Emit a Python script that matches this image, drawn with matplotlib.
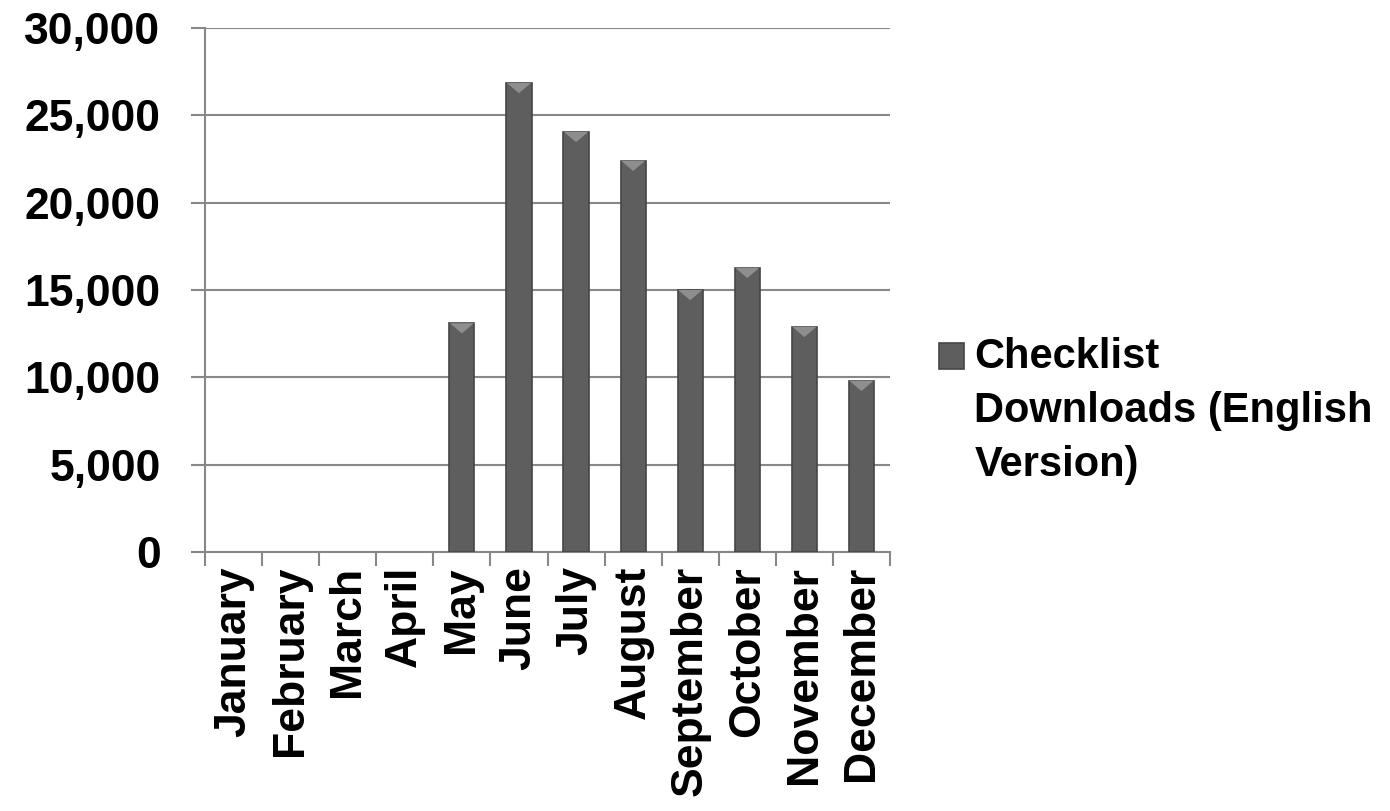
import matplotlib.pyplot as plt
from matplotlib.path import Path
import numpy as np

# Monthly download counts (English checklist)
months = ['January', 'February', 'March', 'April', 'May', 'June', 'July',
          'August', 'September', 'October', 'November', 'December']
downloads = [0, 0, 0, 0, 13100, 26850, 24050, 22400, 15000, 16270, 12890, 9800]
y_ticks = [0, 5000, 10000, 15000, 20000, 25000, 30000]
series_name = 'Checklist\nDownloads (English\nVersion)'

plt.rcParams['font.family'] = ['Liberation Sans', 'DejaVu Sans']
plt.rcParams['font.weight'] = 'bold'

fig = plt.figure(figsize=(13.9, 8.11), dpi=100)
ax = fig.add_axes([205 / 1390, 1 - 552 / 811, 685 / 1390, 524 / 811])

x = np.arange(len(months))
edge = ['#454545' if v > 0 else 'none' for v in downloads]
bars = ax.bar(x, downloads, width=0.44, color='#5e5e5e', edgecolor=edge,
              linewidth=1.2, zorder=3)

# bevel triangle on bar tops
bevel = Path([(-1, 0), (1, 0), (0, -0.85), (-1, 0)],
             [Path.MOVETO, Path.LINETO, Path.LINETO, Path.CLOSEPOLY])
shown = [(i, v) for i, v in zip(x, downloads) if v > 0]
ax.scatter([i for i, _ in shown], [v for _, v in shown], marker=bevel, s=300,
           color='#8e8e8e', edgecolors='none', zorder=4)

ax.set_xlim(-0.5, len(months) - 0.5)
ax.set_ylim(0, 30000)
ax.set_yticks(y_ticks)
ax.set_yticklabels([f'{t:,}' for t in y_ticks], fontsize=32)
ax.set_xticks(x)
ax.set_xticklabels(months, rotation=90, fontsize=32)
ax.tick_params(axis='x', length=0, pad=10)
ax.set_xticks(np.arange(-0.5, len(months)), minor=True)
ax.tick_params(axis='x', which='minor', length=10, width=1.5, color='#888888', direction='out')
ax.tick_params(axis='y', length=10, width=1.5, color='#888888', direction='out', pad=22)

ax.yaxis.grid(True, color='#888888', linewidth=1.5, zorder=0)
ax.set_axisbelow(True)
for side in ['top', 'right']:
    ax.spines[side].set_visible(False)
for side in ['left', 'bottom']:
    ax.spines[side].set_color('#888888')
    ax.spines[side].set_linewidth(1.5)

leg = fig.legend([bars], [series_name], loc='upper left',
                 bbox_to_anchor=(939 / 1390, 1 - 337 / 811),
                 frameon=False, fontsize=30, handlelength=0.6, handleheight=0.6,
                 handletextpad=0.25, borderpad=0, borderaxespad=0)
for t in leg.get_texts():
    t.set_linespacing(1.45)
# put the swatch next to the first line instead of the middle one
sw = leg.legend_handles[0]
sw.set_y(sw.get_y() + 56 * 72 / 100)
sw.set_edgecolor('#454545')

fig.savefig('out.png', dpi=100, facecolor='white')
